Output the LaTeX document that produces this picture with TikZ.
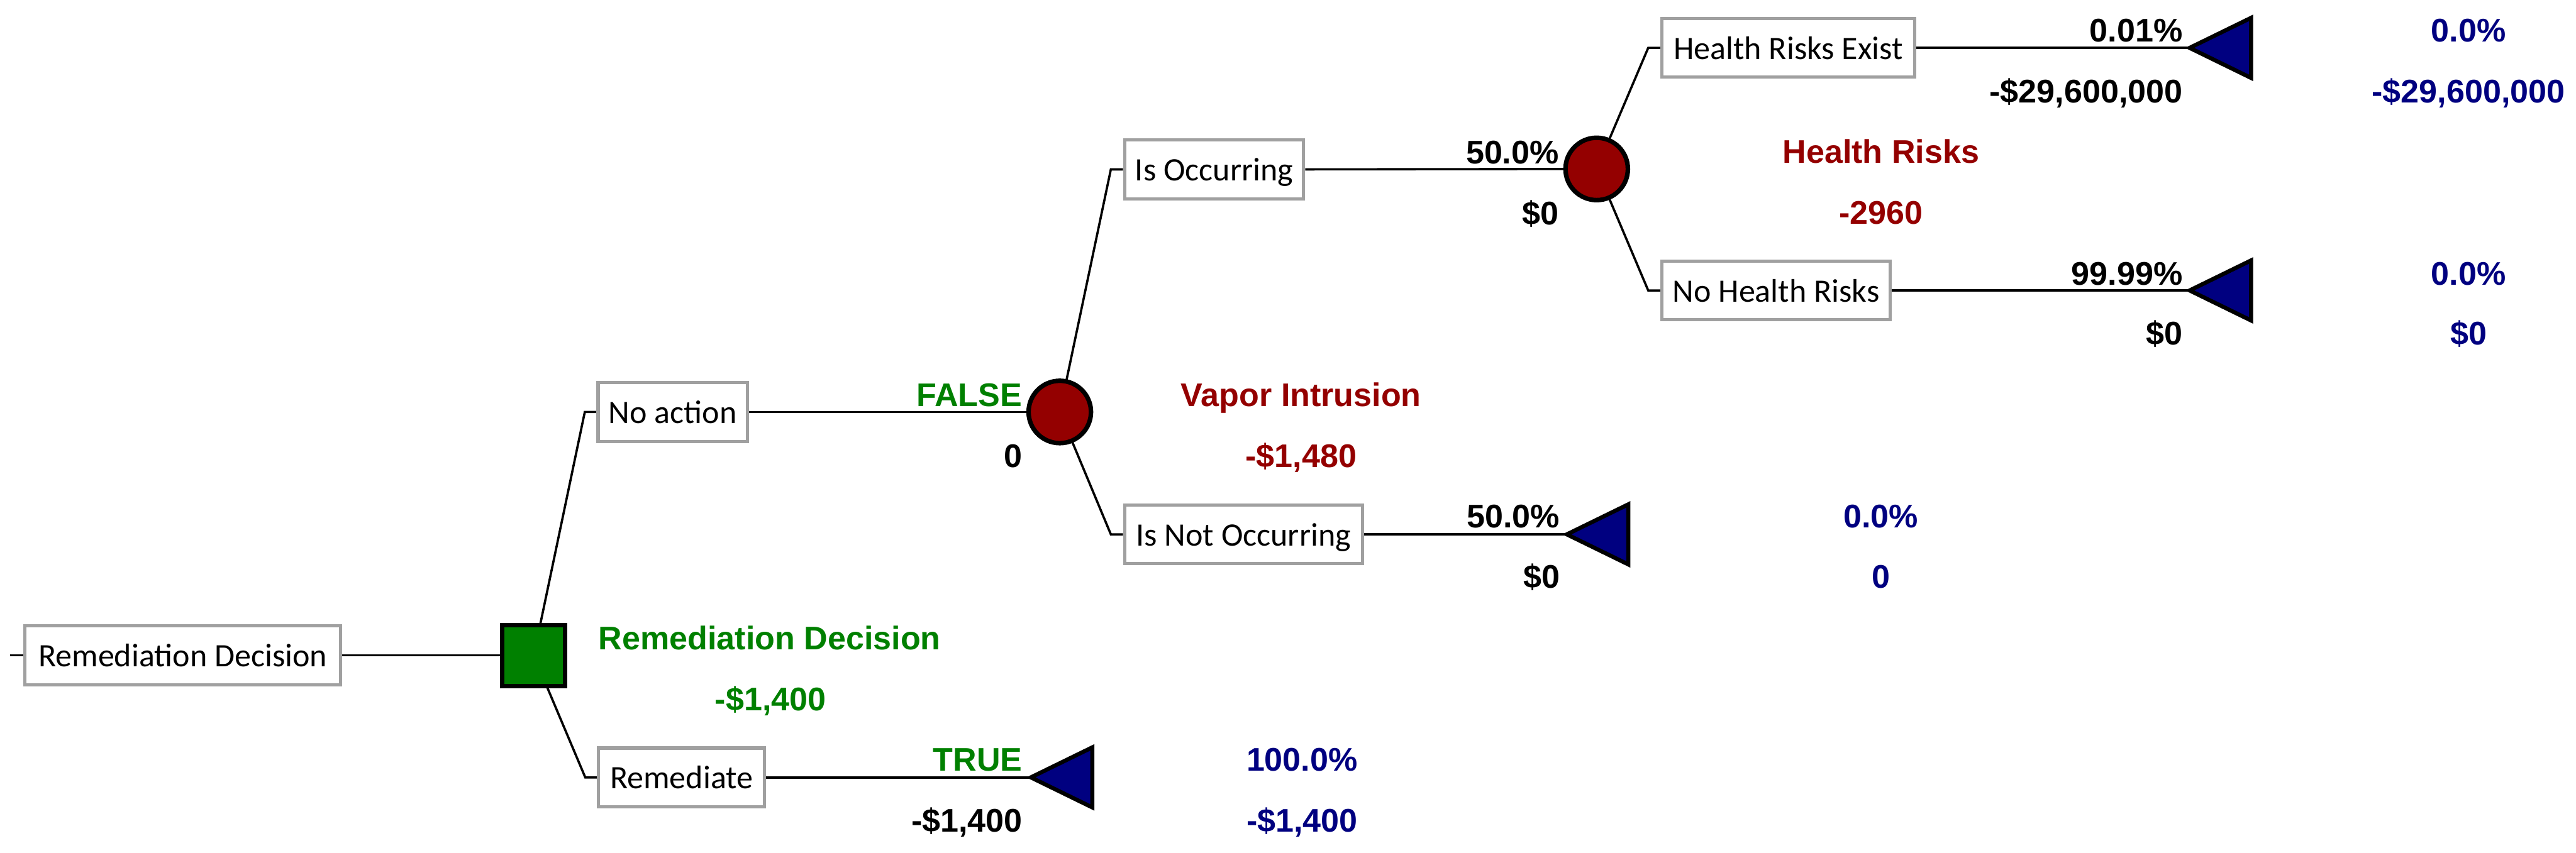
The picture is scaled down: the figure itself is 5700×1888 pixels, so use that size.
\documentclass[tikz,border=0pt]{standalone}
\usepackage{fontspec}
\setmainfont{Liberation Sans}
\newfontfamily\boxfont{Carlito}
\usetikzlibrary{backgrounds}
\definecolor{dgreen}{RGB}{0,128,0}
\definecolor{dred}{RGB}{148,0,0}
\definecolor{dnavy}{RGB}{0,0,128}
\definecolor{boxgray}{RGB}{160,160,160}
\begin{document}
\begin{tikzpicture}[x=0.01cm,y=-0.01cm,
  lbl/.style={draw=boxgray,line width=0.07cm,fill=white,minimum height=1.30cm,
    inner xsep=0.1cm,inner ysep=0cm,text height=0.5cm,text depth=0cm,
    font=\boxfont\fontsize{20.6}{24}\selectfont},
  decnode/.style={draw=black,line width=0.1cm,fill=dgreen,minimum width=1.39cm,
    minimum height=1.35cm,inner sep=0cm},
  chancenode/.style={circle,draw=black,line width=0.1cm,fill=dred,minimum size=1.38cm,inner sep=0cm},
  termtri/.style={draw=black,line width=0.09cm,fill=dnavy},
  branch/.style={line width=0.05cm,black},
  val/.style={inner sep=0cm,font=\bfseries\fontsize{20.6}{24}\selectfont},
  rval/.style={val,anchor=base east},
  cval/.style={val,anchor=base}]
\useasboundingbox (0,0) rectangle (5700,1888);

% label boxes
\node[lbl,minimum width=6.98cm] (root) at (404.5,1451) {Remediation Decision};
\node[lbl,minimum width=3.30cm] (noact) at (1488.5,912) {No action};
\node[lbl,minimum width=3.67cm] (rem) at (1508,1721) {Remediate};
\node[lbl,minimum width=3.96cm] (occ) at (2686.5,375) {Is Occurring};
\node[lbl,minimum width=5.26cm] (nocc) at (2751.5,1183) {Is Not Occurring};
\node[lbl,minimum width=5.59cm] (hre) at (3957,106) {Health Risks Exist};
\node[lbl,minimum width=5.05cm] (nhr) at (3930,643) {No Health Risks};

% decision and chance nodes
\node[decnode] (dec) at (1181,1451) {};
\node[chancenode] (vi) at (2345,912) {};
\node[chancenode] (hr) at (3533,374) {};

% elbows, start and terminal tips
\coordinate (start) at (22,1451);
\coordinate (e1) at (1294,912);
\coordinate (e2) at (1295,1721);
\coordinate (e3) at (2458,375);
\coordinate (e4) at (2458,1183);
\coordinate (e5) at (3647,106);
\coordinate (e6) at (3647,643);
\coordinate (t1) at (2281,1721);
\coordinate (t2) at (3467,1183);
\coordinate (t3) at (4845,106);
\coordinate (t4) at (4845,643);

% terminal triangles
\draw[termtri] (t1) -- ++(136,-66.5) -- ++(0,133) -- cycle;
\draw[termtri] (t2) -- ++(136,-66.5) -- ++(0,133) -- cycle;
\draw[termtri] (t3) -- ++(136,-66.5) -- ++(0,133) -- cycle;
\draw[termtri] (t4) -- ++(136,-66.5) -- ++(0,133) -- cycle;

\begin{scope}[on background layer]
\fill[white] (0,0) rectangle (5700,1888);
\draw[branch] (start) -- (root.west);
\draw[branch] (root.east) -- (dec.center);
\draw[branch] (dec.center) -- (e1) -- (noact.west);
\draw[branch] (dec.center) -- (e2) -- (rem.west);
\draw[branch] (noact.east) -- (vi.center);
\draw[branch] (rem.east) -- (t1);
\draw[branch] (vi.center) -- (e3) -- (occ.west);
\draw[branch] (vi.center) -- (e4) -- (nocc.west);
\draw[branch] (occ.east) -- (hr.center);
\draw[branch] (nocc.east) -- (t2);
\draw[branch] (hr.center) -- (e5) -- (hre.west);
\draw[branch] (hr.center) -- (e6) -- (nhr.west);
\draw[branch] (hre.east) -- (t3);
\draw[branch] (nhr.east) -- (t4);
\end{scope}

% branch values
\node[rval,text=dgreen] (vfalse) at (2262,899) {FALSE};
\node[rval] (vfalse2) at (2262,1034) {0};
\node[rval,text=dgreen] (vtrue) at (2263,1707) {TRUE};
\node[rval] (vtrue2) at (2263,1842) {-\$1,400};
\node[rval] (vocc) at (3450,362) {50.0\%};
\node[rval] (vocc2) at (3450,497) {\$0};
\node[rval] (vnocc) at (3452,1168) {50.0\%};
\node[rval] (vnocc2) at (3452,1302) {\$0};
\node[rval] (vhre) at (4830,93) {0.01\%};
\node[rval] (vhre2) at (4830,227) {-\$29,600,000};
\node[rval] (vnhr) at (4830,631) {99.99\%};
\node[rval] (vnhr2) at (4830,763) {\$0};

% node names and values
\node[cval,text=dgreen] (ndec) at (1703,1438) {Remediation Decision};
\node[cval,text=dgreen] (ndec2) at (1705,1573) {-\$1,400};
\node[cval,text=dred] (nvi) at (2879,899) {Vapor Intrusion};
\node[cval,text=dred] (nvi2) at (2879,1034) {-\$1,480};
\node[cval,text=dred] (nhrl) at (4162,361) {Health Risks};
\node[cval,text=dred] (nhrl2) at (4162,496) {-2960};

% terminal results
\node[cval,text=dnavy] (r1) at (2881,1707) {100.0\%};
\node[cval,text=dnavy] (r1b) at (2881,1842) {-\$1,400};
\node[cval,text=dnavy] (r2) at (4162,1168) {0.0\%};
\node[cval,text=dnavy] (r2b) at (4162,1302) {0};
\node[cval,text=dnavy] (r3) at (5462,93) {0.0\%};
\node[cval,text=dnavy] (r3b) at (5462,227) {-\$29,600,000};
\node[cval,text=dnavy] (r4) at (5462,631) {0.0\%};
\node[cval,text=dnavy] (r4b) at (5462,763) {\$0};
\end{tikzpicture}
\end{document}
